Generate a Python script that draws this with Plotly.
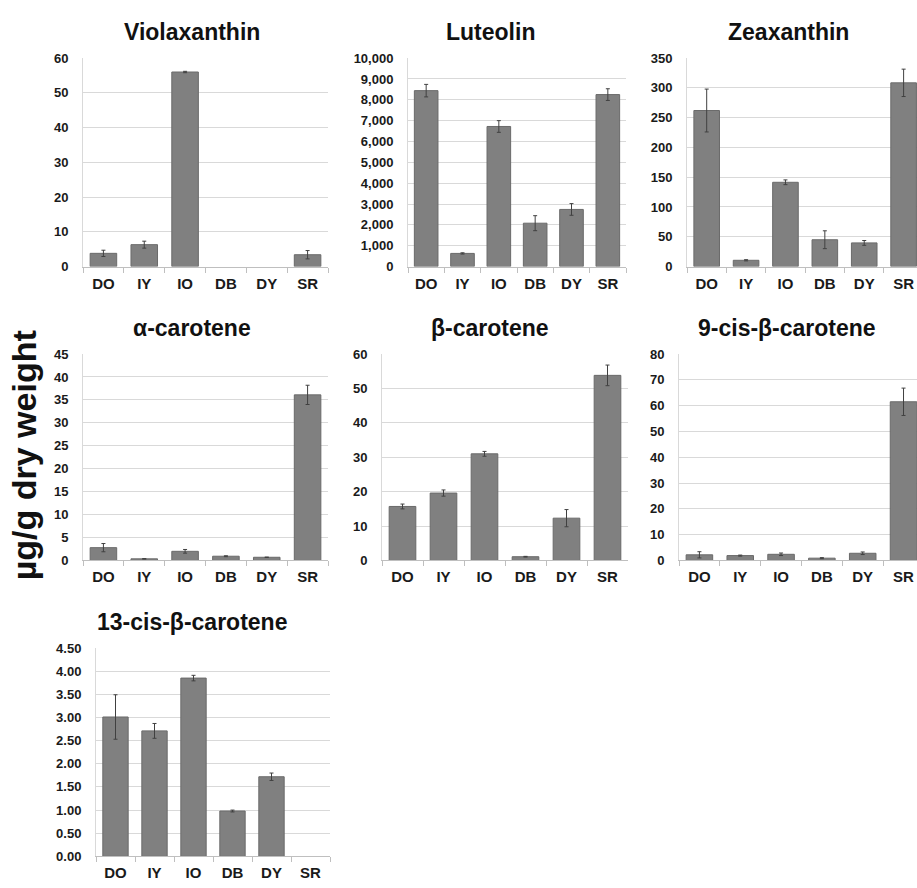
import plotly.graph_objects as go

categories = ["DO", "IY", "IO", "DB", "DY", "SR"]

titles = ["Violaxanthin", "Luteolin", "Zeaxanthin", "α-carotene", "β-carotene",
          "9-cis-β-carotene", "13-cis-β-carotene"]

violaxanthin = [3.8, 6.3, 56.0, None, None, 3.4]
violaxanthin_err = [0.9, 1.0, 0.2, 0, 0, 1.2]
luteolin = [8440, 630, 6720, 2080, 2740, 8250]
luteolin_err = [300, 30, 280, 360, 280, 280]
zeaxanthin = [262, 10.5, 141.5, 45, 39.7, 308.5]
zeaxanthin_err = [36, 1, 4, 15, 4, 23]
alpha_carotene = [2.8, 0.36, 2.0, 0.93, 0.7, 36.1]
alpha_carotene_err = [0.9, 0.05, 0.4, 0.1, 0.05, 2.1]
beta_carotene = [15.7, 19.6, 31.0, 1.1, 12.3, 53.8]
beta_carotene_err = [0.7, 0.9, 0.7, 0.1, 2.5, 3.0]
cis9_beta = [2.2, 1.9, 2.4, 0.9, 2.8, 61.5]
cis9_beta_err = [1.2, 0.2, 0.5, 0.2, 0.5, 5.3]
cis13_beta = [3.01, 2.71, 3.85, 0.98, 1.72, None]
cis13_beta_err = [0.48, 0.16, 0.06, 0.02, 0.08, 0]

series = [violaxanthin, luteolin, zeaxanthin, alpha_carotene, beta_carotene, cis9_beta, cis13_beta]
errors = [violaxanthin_err, luteolin_err, zeaxanthin_err, alpha_carotene_err,
          beta_carotene_err, cis9_beta_err, cis13_beta_err]
y_max = [60, 10000, 350, 45, 60, 80, 4.5]
y_dtick = [10, 1000, 50, 5, 10, 10, 0.5]
y_fmt = ["d", ",d", "d", "d", "d", "d", ".2f"]

W, H = 917, 888
# pixel boxes: (x0, x1, ytop, ybottom, xrange_end)
boxes = [
    (83, 328, 52, 264, 5.5),
    (408, 626, 52, 264, 5.5),
    (687, 917, 52, 264, 5.34),
    (83, 328, 353, 563, 5.5),
    (382, 628, 353, 563, 5.5),
    (679, 917, 353, 563, 5.33),
    (96, 330, 652, 864, 5.5),
]
title_pos = [(192, 25), (490, 25), (788, 25), (192, 327), (490, 327), (787, 327), (192, 626)]

FONT = "Liberation Sans, Arial, sans-serif"
fig = go.Figure()
layout = {}
for i, (vals, errs) in enumerate(zip(series, errors)):
    n = i + 1
    xa = "x" if n == 1 else f"x{n}"
    ya = "y" if n == 1 else f"y{n}"
    fig.add_trace(go.Bar(
        x=categories, y=vals, xaxis=xa, yaxis=ya, width=0.65,
        marker=dict(color="#808080", line=dict(color="#6a6a6a", width=1)),
        error_y=dict(type="data", array=errs, visible=True, color="#404040",
                     thickness=1, width=2),
        showlegend=False, cliponaxis=False,
    ))
    x0, x1, yt, yb, xend = boxes[i]
    layout[f"xaxis{'' if n == 1 else n}"] = dict(
        domain=[x0 / W, x1 / W], anchor=ya, range=[-0.5, xend],
        type="category", showline=True, linecolor="#bfbfbf", linewidth=1,
        ticks="outside", tickson="boundaries", ticklen=5, tickcolor="#bfbfbf",
        showgrid=False, zeroline=False, fixedrange=True,
        tickfont=dict(family=FONT, size=15, color="#1a1a1a", weight="bold"),
        ticklabelstandoff=3,
    )
    layout[f"yaxis{'' if n == 1 else n}"] = dict(
        domain=[1 - yb / H, 1 - yt / H], anchor=xa, range=[0, y_max[i]],
        dtick=y_dtick[i], tick0=0, tickformat=y_fmt[i],
        showline=True, linecolor="#d9d9d9", linewidth=1,
        showgrid=True, gridcolor="#d9d9d9", gridwidth=1, zeroline=False,
        ticks="", ticklabelstandoff=11,
        tickfont=dict(family=FONT, size=13, color="#1a1a1a", weight="bold"),
    )

annotations = []
for t, (px, py) in zip(titles, title_pos):
    annotations.append(dict(text=t, x=px / W, y=1 - py / H, xref="paper", yref="paper",
                            showarrow=False, xanchor="center", yanchor="middle",
                            font=dict(family=FONT, size=23, color="#111111", weight="bold")))
annotations.append(dict(text="µg/g dry weight", x=24 / W, y=1 - 456 / H, xref="paper",
                        yref="paper", showarrow=False, textangle=-90,
                        xanchor="center", yanchor="middle",
                        font=dict(family=FONT, size=34, color="#111111", weight="bold")))

fig.update_layout(width=W, height=H, margin=dict(l=0, r=0, t=0, b=0),
                  paper_bgcolor="white", plot_bgcolor="white",
                  annotations=annotations, bargap=0.35, **layout)
fig.write_html("out.html", config={"displayModeBar": False},
               post_script="document.body.style.margin='0';document.body.style.overflow='hidden';")
